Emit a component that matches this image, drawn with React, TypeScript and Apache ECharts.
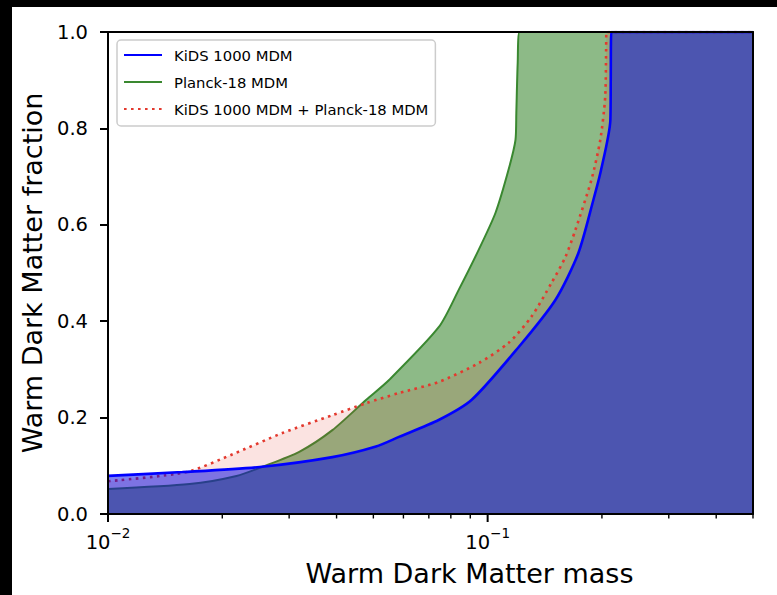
import { useEffect, useRef } from 'react';
import * as echarts from 'echarts';

// KiDS 1000 MDM (blue)
const kidsMass = [0.01, 0.0157, 0.0251, 0.039, 0.0508, 0.0584, 0.0743, 0.0908, 0.1206, 0.1508, 0.1733, 0.1898, 0.199, 0.2105, 0.211, 0.2117, 0.5];
const kidsFrac = [0.079, 0.087, 0.0975, 0.118, 0.14, 0.16, 0.195, 0.237, 0.346, 0.444, 0.541, 0.651, 0.714, 0.817, 0.9, 1.0, 1.0];

// Planck-18 MDM (green)
const planckMass = [0.01, 0.0164, 0.0218, 0.0255, 0.0319, 0.039, 0.0479, 0.055, 0.0744, 0.0839, 0.0947, 0.1049, 0.1135, 0.1184, 0.119, 0.12, 0.1214, 0.5];
const planckFrac = [0.052, 0.062, 0.079, 0.098, 0.129, 0.174, 0.237, 0.278, 0.388, 0.465, 0.548, 0.625, 0.714, 0.776, 0.832, 0.936, 1.0, 1.0];

// KiDS 1000 MDM + Planck-18 MDM (red dotted)
const comboMass = [0.01, 0.0161, 0.0213, 0.0288, 0.039, 0.0479, 0.0584, 0.0743, 0.0947, 0.1135, 0.1303, 0.1472, 0.1602, 0.1702, 0.1876, 0.198, 0.204, 0.2052, 0.2055, 0.5];
const comboFrac = [0.068, 0.087, 0.124, 0.168, 0.205, 0.23, 0.251, 0.274, 0.313, 0.355, 0.409, 0.479, 0.533, 0.589, 0.693, 0.776, 0.865, 0.967, 1.0, 1.0];

const seriesNames = ['KiDS 1000 MDM', 'Planck-18 MDM', 'KiDS 1000 MDM + Planck-18 MDM'];
const xMajorTicks = [0.01, 0.1];
const xMinorTicks = [0.02, 0.03, 0.04, 0.05, 0.06, 0.07, 0.08, 0.09, 0.2, 0.3, 0.4, 0.5];
const xRange = [0.01, 0.5];
const yRange = [0, 1];
const yStep = 0.2;

const FONT = 'DejaVu Sans';

export default function App() {
  const ref = useRef<HTMLDivElement>(null);
  useEffect(() => {
    const chart = echarts.init(ref.current!, null, { renderer: 'svg' });
    const pairs = (m: number[], f: number[]) => m.map((v, i) => [v, f[i]]);
    const tickSeries = (vals: number[], len: number, width: number) => ({
      type: 'custom',
      silent: true,
      clip: false,
      z: 20,
      data: vals.map((v) => [v, 0]),
      encode: { x: 0, y: 1 },
      renderItem: (_p: any, api: any) => {
        const p = api.coord([api.value(0), 0]);
        return {
          type: 'line',
          shape: { x1: p[0], y1: p[1], x2: p[0], y2: p[1] + len },
          style: { stroke: '#000', lineWidth: width },
        };
      },
    });
    const xLabel = (v: number) => {
      const e = Math.log10(v);
      const r = Math.round(e);
      if (Math.abs(e - r) > 1e-6) return '';
      return `{b|10}{s|${r < 0 ? '\u2212' : ''}${Math.abs(r)}}`;
    };
    chart.setOption({
      animation: false,
      backgroundColor: '#ffffff',
      grid: { left: 108, right: 24, top: 32, bottom: 81, containLabel: false },
      graphic: [
        { type: 'rect', shape: { x: 0, y: 0, width: 777, height: 7 }, style: { fill: '#000' }, z: 100 },
        { type: 'rect', shape: { x: 0, y: 0, width: 12, height: 595 }, style: { fill: '#000' }, z: 100 },
      ],
      legend: {
        data: seriesNames,
        orient: 'vertical',
        left: 117,
        top: 40,
        padding: [7, 7, 9, 6],
        itemGap: 11,
        itemWidth: 38,
        itemHeight: 16,
        backgroundColor: 'rgba(255,255,255,0.8)',
        borderColor: '#cccccc',
        borderWidth: 1.5,
        borderRadius: 4,
        selectedMode: false,
        itemStyle: { opacity: 0 },
        textStyle: { fontFamily: FONT, fontSize: 14.8, color: '#000', padding: [0, 0, 0, 7], lineHeight: 16 },
        z: 30,
      },
      xAxis: [
        {
          type: 'log',
          logBase: 10,
          min: xRange[0],
          max: xRange[1],
          z: 10,
          name: 'Warm Dark Matter mass',
          nameLocation: 'middle',
          nameGap: 46,
          nameTextStyle: { fontFamily: FONT, fontSize: 27, color: '#000', padding: [0, 0, 0, 78] },
          axisLine: { show: true, lineStyle: { color: '#000', width: 2 } },
          axisTick: { show: false },
          splitLine: { show: false },
          minorTick: { show: false },
          axisLabel: {
            margin: 12,
            formatter: xLabel,
            rich: {
              b: { fontFamily: FONT, fontSize: 19.5, color: '#000', lineHeight: 26, verticalAlign: 'bottom' },
              s: { fontFamily: FONT, fontSize: 13.5, color: '#000', lineHeight: 14, verticalAlign: 'top' },
            },
          },
        },
        {
          type: 'log',
          logBase: 10,
          min: xRange[0],
          max: xRange[1],
          position: 'top',
          z: 10,
          axisLine: { show: true, onZero: false, lineStyle: { color: '#000', width: 2 } },
          axisTick: { show: false },
          axisLabel: { show: false },
          splitLine: { show: false },
        },
      ],
      yAxis: [
        {
          type: 'value',
          min: yRange[0],
          max: yRange[1],
          interval: yStep,
          z: 10,
          name: 'Warm Dark Matter fraction',
          nameLocation: 'middle',
          nameGap: 58,
          nameRotate: 90,
          nameTextStyle: { fontFamily: FONT, fontSize: 27, color: '#000' },
          axisLine: { show: true, lineStyle: { color: '#000', width: 2 } },
          axisTick: { show: true, length: 8, lineStyle: { color: '#000', width: 2 } },
          splitLine: { show: false },
          axisLabel: {
            margin: 20,
            fontFamily: FONT,
            fontSize: 19.5,
            color: '#000',
            formatter: (v: number) => v.toFixed(1),
          },
        },
        {
          type: 'value',
          min: yRange[0],
          max: yRange[1],
          position: 'right',
          z: 10,
          axisLine: { show: true, onZero: false, lineStyle: { color: '#000', width: 2 } },
          axisTick: { show: false },
          axisLabel: { show: false },
          splitLine: { show: false },
        },
      ],
      series: [
        {
          name: seriesNames[1],
          type: 'line',
          symbol: 'none',
          smooth: 0.25,
          data: pairs(planckMass, planckFrac),
          lineStyle: { color: '#3a8830', width: 2 },
          itemStyle: { color: '#3a8830' },
          areaStyle: { color: '#3a8830', opacity: 0.58 },
          z: 2,
        },
        {
          name: seriesNames[2],
          type: 'line',
          symbol: 'none',
          smooth: 0.25,
          data: pairs(comboMass, comboFrac),
          lineStyle: { color: '#e3392e', width: 2.6, type: [2.6, 4.4], cap: 'butt' },
          itemStyle: { color: '#e3392e' },
          areaStyle: { color: '#e3392e', opacity: 0.14 },
          z: 3,
        },
        {
          name: seriesNames[0],
          type: 'line',
          symbol: 'none',
          smooth: 0.25,
          data: pairs(kidsMass, kidsFrac),
          lineStyle: { color: '#0000ff', width: 2.6 },
          itemStyle: { color: '#0000ff' },
          areaStyle: { color: '#0004e6', opacity: 0.5 },
          z: 4,
        },
        tickSeries(xMajorTicks, 8, 2),
        tickSeries(xMinorTicks, 4.5, 1.4),
      ],
    });
    return () => chart.dispose();
  }, []);
  return <div ref={ref} style={{ position: 'absolute', left: 0, top: 0, width: 777, height: 595 }} />;
}
